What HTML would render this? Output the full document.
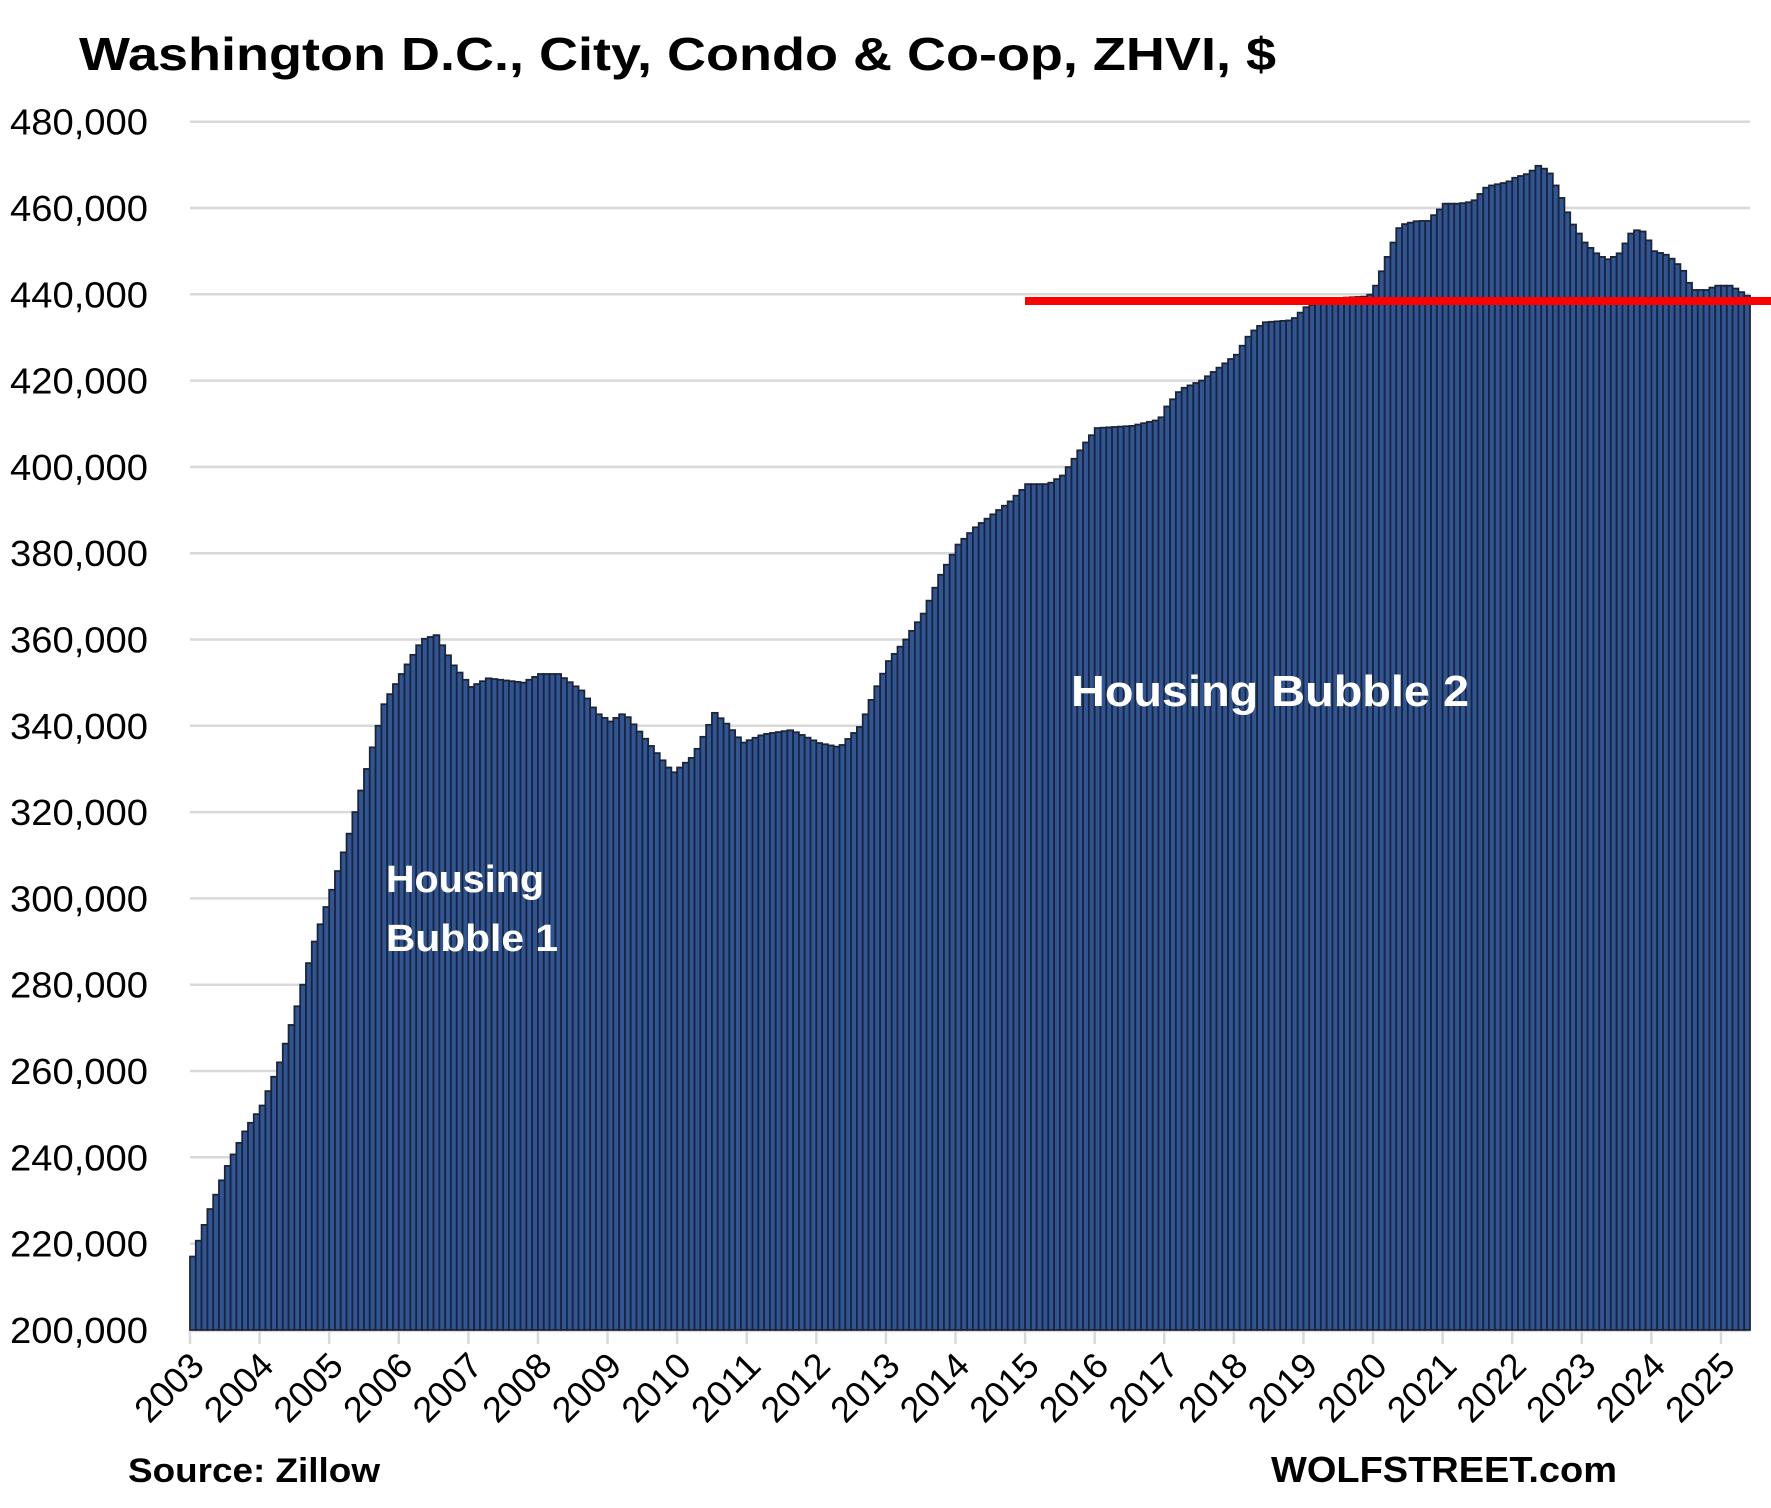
<!DOCTYPE html>
<html><head><meta charset="utf-8">
<style>
html,body{margin:0;padding:0;background:#fff;}
svg{display:block;}
text{font-family:"Liberation Sans",sans-serif;}
</style></head>
<body>
<svg id="c" width="1771" height="1508" viewBox="0 0 1771 1508" xmlns="http://www.w3.org/2000/svg">
<rect width="1771" height="1508" fill="#fff"/>
<text x="79" y="70" font-size="46" font-weight="bold" fill="#000" textLength="1197" lengthAdjust="spacingAndGlyphs">Washington D.C., City, Condo &amp; Co-op, ZHVI, $</text>
<g id="grid"></g>
<g id="bars"></g>
<g id="ylab" font-size="36" fill="#000" text-anchor="end"></g>
<g id="xlab" font-size="36" fill="#000"></g>
<rect x="1025" y="297" width="746" height="8" fill="#ff0000"/>
<text x="1071" y="706" font-size="44" font-weight="bold" fill="#fff" textLength="398" lengthAdjust="spacingAndGlyphs">Housing Bubble 2</text>
<text x="386" y="892" font-size="38" font-weight="bold" fill="#fff" textLength="158" lengthAdjust="spacingAndGlyphs">Housing</text>
<text x="386" y="951" font-size="38" font-weight="bold" fill="#fff" textLength="172" lengthAdjust="spacingAndGlyphs">Bubble 1</text>
<text x="128" y="1482" font-size="34" font-weight="bold" fill="#000" textLength="252" lengthAdjust="spacingAndGlyphs">Source: Zillow</text>
<text x="1271" y="1482" font-size="36" font-weight="bold" fill="#000" textLength="346" lengthAdjust="spacingAndGlyphs">WOLFSTREET.com</text>
</svg>
<script>
(function(){
var NS="http://www.w3.org/2000/svg";
function el(p,t,a,txt){var e=document.createElementNS(NS,t);for(var k in a)e.setAttribute(k,a[k]);if(txt!==undefined)e.textContent=txt;document.getElementById(p).appendChild(e);return e;}
var L=190,R=1750,top=121.7,step=86.3;
function yv(v){return top+(480-v)/20*step;}
var base=yv(200);
for(var v=200;v<=480;v+=20){
  var y=yv(v);
  if(v>200) el("grid","line",{x1:L,x2:R,y1:y,y2:y,stroke:"#d9d9d9","stroke-width":2.5});
  el("ylab","text",{x:148,y:y+13,textLength:138,lengthAdjust:"spacingAndGlyphs"},(v)+",000");
}
var k=[[2003,217],[2003.25,228],[2003.5,238],[2003.75,246],[2004,252],[2004.25,262],[2004.5,275],[2004.75,290],[2005,302],[2005.25,315],[2005.5,330],[2005.75,345],[2006,352],[2006.3,360],[2006.5,361],[2006.75,354],[2007,349],[2007.25,351],[2007.75,350],[2008,352],[2008.25,352],[2008.6,348],[2008.8,343],[2009,341],[2009.2,343],[2009.5,337],[2009.9,329],[2010.2,333],[2010.5,343],[2010.7,340],[2010.9,336],[2011.2,338],[2011.6,339],[2012,336],[2012.3,335],[2012.6,340],[2012.8,348],[2013,355],[2013.25,360],[2013.5,366],[2013.75,375],[2014,382],[2014.25,386],[2014.5,389],[2014.75,392],[2015,396],[2015.3,396],[2015.5,398],[2015.8,405],[2016,409],[2016.5,409.5],[2016.9,411],[2017,414],[2017.2,418],[2017.5,420],[2017.75,423],[2018,426],[2018.2,431],[2018.4,433.5],[2018.8,434],[2019,437],[2019.3,439],[2019.9,439.5],[2020,442],[2020.2,450],[2020.35,456],[2020.6,457],[2020.75,457],[2021,461],[2021.2,461],[2021.4,461.5],[2021.6,465],[2021.9,466],[2022,467],[2022.2,468],[2022.35,470],[2022.5,468],[2022.65,463],[2022.8,457],[2023,452],[2023.2,449],[2023.35,448],[2023.5,449.5],[2023.7,455],[2023.85,454.5],[2024,450],[2024.2,449],[2024.4,446],[2024.55,441],[2024.75,441],[2024.9,442],[2025.1,442],[2025.25,440.5],[2025.4,439]];
function val(t){if(t<=k[0][0])return k[0][1];for(var i=1;i<k.length;i++){if(t<=k[i][0]){var a=k[i-1],b=k[i];return a[1]+(b[1]-a[1])*(t-a[0])/(b[0]-a[0]);}}return k[k.length-1][1];}
var N=269,w=(R-L)/N;
for(var i=0;i<N;i++){
  var t=2003+i/12,v=val(t),y=yv(v);
  el("bars","rect",{x:L+i*w,y:y,width:w,height:base-y,fill:"#2F5597",stroke:"#1c2536","stroke-width":1.8});
}
el("grid","line",{x1:L,x2:R,y1:base+1,y2:base+1,stroke:"#d9d9d9","stroke-width":2.5});
for(var yr=2003;yr<=2025;yr++){
  var x=L+(yr-2003)*12*w;
  el("grid","line",{x1:x,x2:x,y1:base,y2:base+14,stroke:"#d9d9d9","stroke-width":2.5});
  el("xlab","text",{x:0,y:0,"text-anchor":"end",textLength:80,lengthAdjust:"spacingAndGlyphs",transform:"translate("+(x+16)+","+(base+38)+") rotate(-45)"},String(yr));
}
})();
</script>
</body></html>
